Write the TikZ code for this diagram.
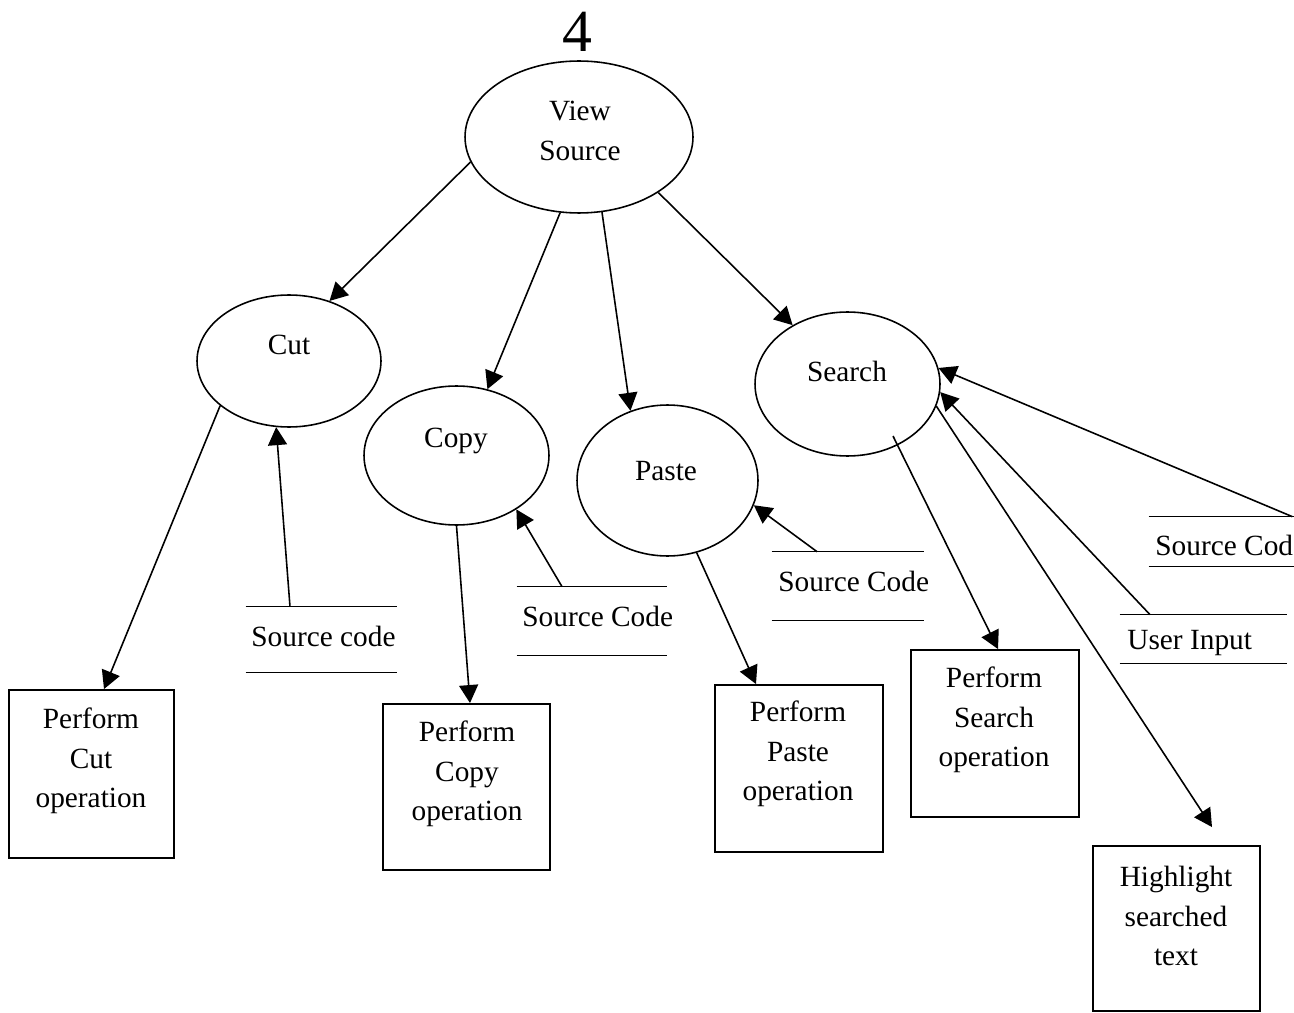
\documentclass[tikz,border=0pt]{standalone}
\usepackage{fontspec}
\setmainfont{Liberation Serif}
\usetikzlibrary{calc,shapes.geometric,arrows.meta}
\begin{document}
\begin{tikzpicture}[x=0.02cm,y=-0.02cm,
  font=\fontsize{16.7}{22.5}\selectfont,
  proc/.style={ellipse, draw, line width=0.9pt, inner sep=0pt},
  box/.style={rectangle, draw, line width=1.1pt, inner sep=0pt},
  store/.style={rectangle, inner sep=0pt},
  storeline/.style={line width=0.9pt},
  lbl/.style={inner sep=0pt, align=center},
  stxt/.style={inner sep=0pt, anchor=west},
  flow/.style={line width=0.9pt, -{Triangle[length=0.36cm,width=0.38cm]}},
]
\useasboundingbox (0,0) rectangle (1294,1013);

% page number
\node[lbl, font=\fontsize{34}{36}\selectfont] (num) at (577,32) {4};

% processes
\node[proc, minimum width=4.56cm, minimum height=3.04cm] (vs) at (579,137) {};
\node[lbl] (vsT) at (580,131) {View\\Source};
\node[proc, minimum width=3.68cm, minimum height=2.64cm] (cut) at (289,361) {};
\node[lbl] (cutT) at (289,345) {Cut};
\node[proc, minimum width=3.70cm, minimum height=2.78cm] (copy) at (456.5,455.5) {};
\node[lbl] (copyT) at (456,441) {Copy};
\node[proc, minimum width=3.62cm, minimum height=3.02cm] (paste) at (667.5,480.5) {};
\node[lbl] (pasteT) at (666,471) {Paste};
\node[proc, minimum width=3.70cm, minimum height=2.88cm] (se) at (847.5,384) {};
\node[lbl] (seT) at (847,371) {Search};

% operation boxes
\node[box, minimum width=3.30cm, minimum height=3.36cm] (pc) at (91.5,774) {};
\node[lbl] (pcT) at (91,761) {Perform\\Cut\\operation};
\node[box, minimum width=3.34cm, minimum height=3.32cm] (pcp) at (466.5,787) {};
\node[lbl] (pcpT) at (467,774) {Perform\\Copy\\operation};
\node[box, minimum width=3.36cm, minimum height=3.34cm] (pp) at (799,768.5) {};
\node[lbl] (ppT) at (798,754) {Perform\\Paste\\operation};
\node[box, minimum width=3.36cm, minimum height=3.34cm] (ps) at (995,733.5) {};
\node[lbl] (psT) at (994,720) {Perform\\Search\\operation};
\node[box, minimum width=3.34cm, minimum height=3.30cm] (hl) at (1176.5,928.5) {};
\node[lbl] (hlT) at (1176,916) {Highlight\\searched\\text};

% data stores
\node[store, minimum width=3.02cm, minimum height=1.30cm] (s1) at (321.5,639.5) {};
\node[stxt] (s1T) at (251,636) {Source code};
\node[store, minimum width=3.00cm, minimum height=1.36cm] (s2) at (592,621) {};
\node[stxt] (s2T) at (522,616) {Source Code};
\node[store, minimum width=3.04cm, minimum height=1.36cm] (s3) at (848,586) {};
\node[stxt] (s3T) at (778,581) {Source Code};
\node[store, minimum width=2.90cm, minimum height=0.98cm] (s4) at (1221.5,541.5) {};
\node[stxt] (s4T) at (1155,545) {Source Cod};
\node[store, minimum width=3.34cm, minimum height=0.96cm] (s5) at (1203.5,639) {};
\node[stxt] (s5T) at (1127,643) {User Input};

\foreach \s in {s1,s2,s3,s4,s5}
  \draw[storeline] (\s.north west) -- (\s.north east)
                   (\s.south west) -- (\s.south east);

% flows out of View Source
\draw[flow] (vs.193.2) -- (cut.56.3);
\draw[flow] (vs.256) -- (copy.65.8);
\draw[flow] (vs.287.7) -- (paste.118);
\draw[flow] (vs.325.2) -- (se.133.6);

% flows to the operations
\draw[flow] (cut.213.2) -- ($(pc.north)+(12.5,0)$);
\draw[flow] (copy.270) -- ($(pcp.north)+(3.5,0)$);
\draw[flow] (paste.292.9) -- ($(pp.north)+(-43,0)$);
\draw[flow] ($(se.center)+(45.5,52)$) -- ($(ps.north)+(3,0)$);
\draw[flow] (se.346.8) -- ($(hl.north)+(35.5,-18)$);

% flows from the stores
\draw[flow] ($(s1.north)+(-31.5,0)$) -- (cut.259.8);
\draw[flow] ($(s2.north)+(-30,0)$) -- (copy.318.2);
\draw[flow] ($(s3.north)+(-31,0)$) -- (paste.344.9);
\draw[flow] ($(s4.north east)+(-2,0)$) -- (se.10.6);
\draw[flow] ($(s5.north)+(-53.5,0)$) -- (se.355);
\end{tikzpicture}
\end{document}
